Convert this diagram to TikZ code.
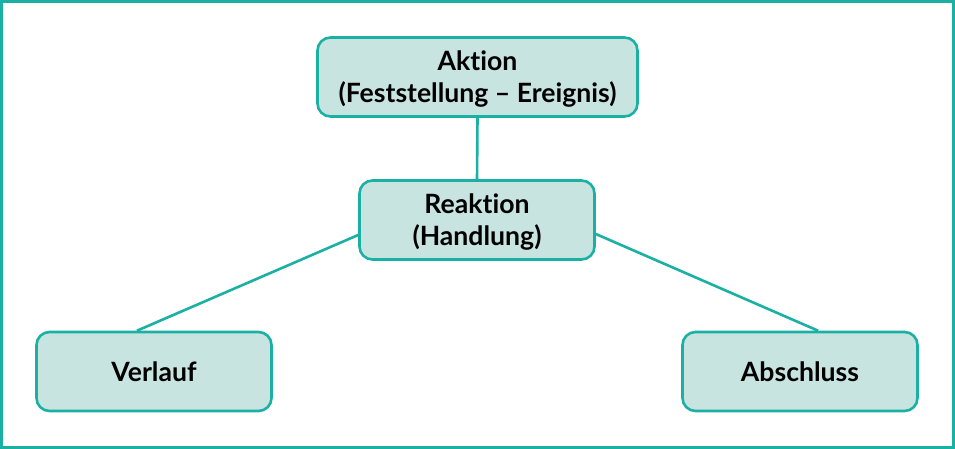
\documentclass[tikz,border=0pt]{standalone}
\usepackage{fontspec}
\setmainfont{Lato}[Ligatures=NoCommon]
\definecolor{teal1}{HTML}{1BB0A4}
\definecolor{fillc}{HTML}{C8E4E1}
\begin{document}
\begin{tikzpicture}[x=1pt,y=1pt,
  box/.style={draw=teal1,fill=fillc,line width=2.6pt,rounded corners=13pt,
    minimum width=#1,minimum height=79pt,align=center,inner sep=0pt,
    font=\fontsize{26.6}{32.5}\selectfont\bfseries},
  conn/.style={draw=teal1,line width=2.6pt}]
\useasboundingbox (0,0) rectangle (955,449);
\draw[teal1,line width=3pt] (1.5,1.5) rectangle (953.5,447.5);
\node[box=320pt] (a) at (477.5,372) {};
\node[anchor=center,inner sep=0pt,align=center,font=\fontsize{26.6}{32.5}\selectfont\bfseries] (at) at (477.5,370) {Aktion\\(Feststellung – Ereignis)};
\node[box=235pt] (r) at (477,229) {};
\node[anchor=center,inner sep=0pt,align=center,font=\fontsize{26.6}{32.5}\selectfont\bfseries] (rt) at (477,227) {Reaktion\\(Handlung)};
\node[box=235pt] (v) at (154,77.5) {Verlauf};
\node[box=235pt] (s) at (800,77.5) {Abschluss};
\draw[conn] (a.south) -- (r.north);
\draw[conn] ([yshift=-15pt]r.west) -- ([xshift=-17pt]v.north);
\draw[conn] ([yshift=-14pt]r.east) -- ([xshift=18pt]s.north);
\end{tikzpicture}
\end{document}
